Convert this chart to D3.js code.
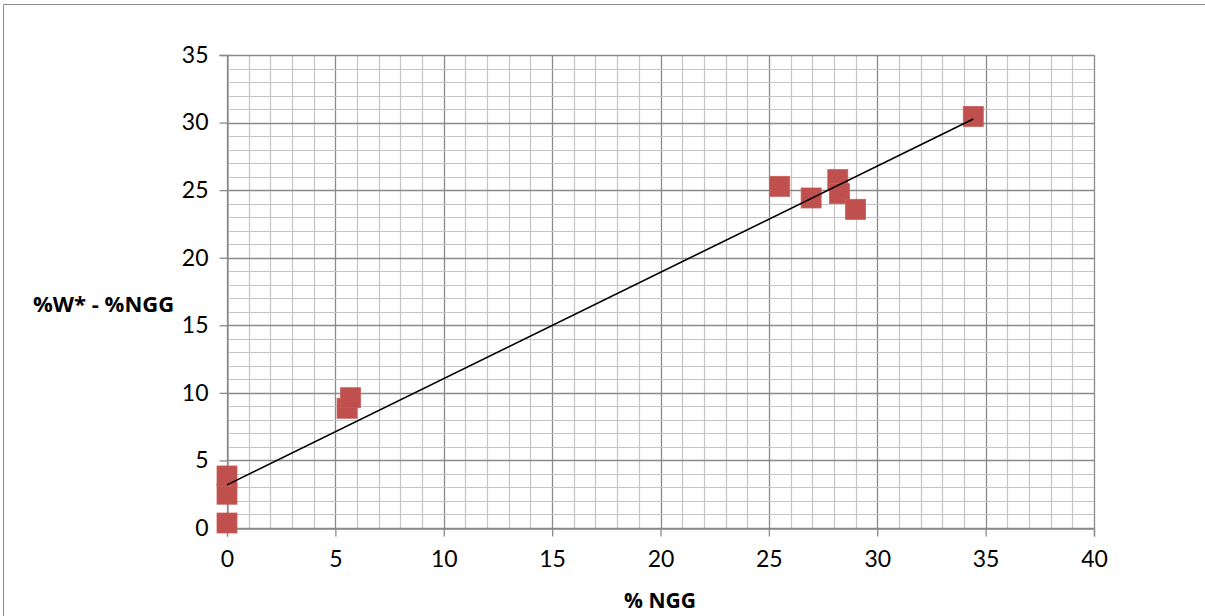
<!DOCTYPE html>
<html lang="en">
<head>
    <meta charset="UTF-8">
    <script src="https://d3js.org/d3.v7.min.js"></script>
    <title>%W* - %NGG vs % NGG</title>
    <style>
        body { margin: 0; background: #fff; }
    </style>
</head>
<body>
    <script>
        // Measured points (% NGG, %W* - %NGG)
        const ngg = [0, 0, 0, 5.54, 5.70, 25.5, 26.95, 28.18, 28.26, 29.0, 34.43];
        const wMinusNgg = [0.37, 2.5, 3.85, 8.86, 9.64, 25.28, 24.42, 25.78, 24.74, 23.58, 30.45];
        const xTicks = [0, 5, 10, 15, 20, 25, 30, 35, 40];
        const yTicks = [0, 5, 10, 15, 20, 25, 30, 35];

        const width = 1205, height = 616;
        const plotLeft = 227, plotRight = 1094, plotTop = 55, plotBottom = 528;

        const svg = d3.select("body").append("svg")
            .attr("width", width)
            .attr("height", height);

        // outer frame (only top and left edges show)
        svg.append("path")
            .attr("d", `M3.5,616 V4.5 H1205`)
            .attr("fill", "none")
            .attr("stroke", "#8c8c8c")
            .attr("stroke-width", 1);

        const x = d3.scaleLinear().domain([0, 40]).range([plotLeft, plotRight]);
        const y = d3.scaleLinear().domain([0, 35]).range([plotBottom, plotTop]);

        // minor grid every 1 unit, major every 5
        const grid = svg.append("g");
        grid.selectAll(".vx").data(d3.range(0, 41)).enter().append("line")
            .attr("x1", d => Math.round(x(d)) + 0.5).attr("x2", d => Math.round(x(d)) + 0.5)
            .attr("y1", y(0)).attr("y2", y(35))
            .attr("stroke", d => d % 5 === 0 ? "#8a8a8a" : "#c4c4c4")
            .attr("stroke-width", d => d % 5 === 0 ? 1.3 : 1.2);
        grid.selectAll(".hy").data(d3.range(0, 36)).enter().append("line")
            .attr("y1", d => Math.round(y(d)) + 0.5).attr("y2", d => Math.round(y(d)) + 0.5)
            .attr("x1", x(0)).attr("x2", x(40))
            .attr("stroke", d => d % 5 === 0 ? "#8a8a8a" : "#c4c4c4")
            .attr("stroke-width", d => d % 5 === 0 ? 1.3 : 1.2);

        // axes
        const xAxis = svg.append("g")
            .attr("transform", `translate(0,${Math.round(y(0)) + 0.5})`)
            .call(d3.axisBottom(x).tickValues(xTicks).tickSize(8).tickPadding(14));
        const yAxis = svg.append("g")
            .attr("transform", `translate(${Math.round(x(0)) + 0.5},0)`)
            .call(d3.axisLeft(y).tickValues(yTicks).tickSize(8).tickPadding(11));

        [xAxis, yAxis].forEach(a => {
            a.select(".domain").attr("stroke", "#8a8a8a").attr("stroke-width", 1.3);
            a.selectAll(".tick line").attr("stroke", "#8a8a8a").attr("stroke-width", 1.3);
            a.selectAll(".tick text")
                .attr("fill", "#000")
                .style("font-family", "Lato, 'Open Sans', sans-serif")
                .style("font-size", "23px");
        });

        // linear trendline (least squares) over the data range
        const pts = ngg.map((v, i) => [v, wMinusNgg[i]]);
        const mx = d3.mean(ngg), my = d3.mean(wMinusNgg);
        const slope = d3.sum(pts, p => (p[0] - mx) * (p[1] - my)) / d3.sum(pts, p => (p[0] - mx) ** 2);
        const icpt = my - slope * mx;
        const [x0, x1] = d3.extent(ngg);

        // markers
        svg.append("g").selectAll("rect").data(pts).enter().append("rect")
            .attr("x", d => x(d[0]) - 10)
            .attr("y", d => y(d[1]) - 10)
            .attr("width", 20)
            .attr("height", 20)
            .attr("fill", "#c0504d")
            .attr("stroke", "#c95e5b")
            .attr("stroke-width", 0.8);

        svg.append("line")
            .attr("x1", x(x0)).attr("y1", y(icpt + slope * x0))
            .attr("x2", x(x1)).attr("y2", y(icpt + slope * x1))
            .attr("stroke", "#000")
            .attr("stroke-width", 1.6);

        // axis titles
        svg.append("text")
            .attr("x", 33).attr("y", 312)
            .style("font-family", "'Open Sans', sans-serif")
            .style("font-weight", "bold")
            .style("font-size", "22px")
            .text("%W* - %NGG");

        svg.append("text")
            .attr("x", 660).attr("y", 608)
            .attr("text-anchor", "middle")
            .style("font-family", "'Open Sans', sans-serif")
            .style("font-weight", "bold")
            .style("font-size", "21px")
            .text("% NGG");
    </script>
</body>
</html>
